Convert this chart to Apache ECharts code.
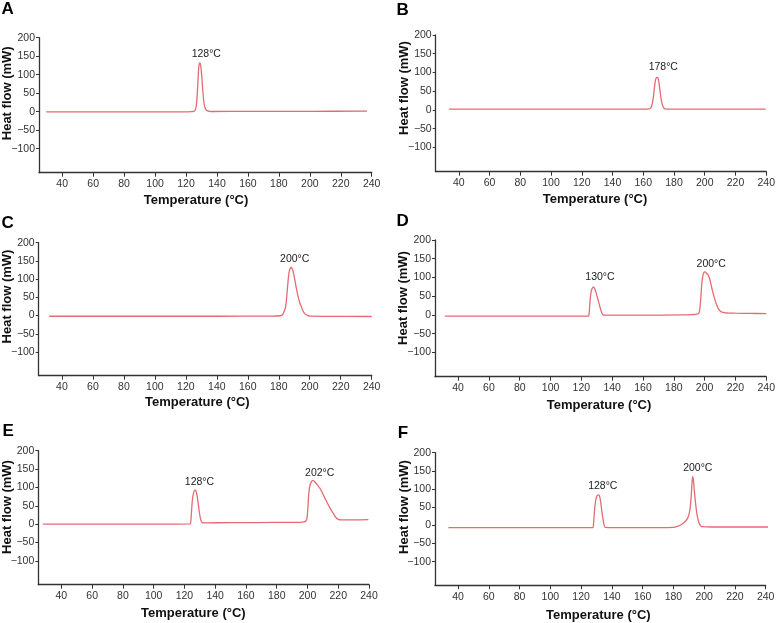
<!DOCTYPE html>
<html>
<head>
<meta charset="utf-8">
<script src="https://cdn.jsdelivr.net/npm/echarts@6/dist/echarts.min.js"></script>
<style>
html,body{margin:0;padding:0;background:#fff;}
#chart{width:778px;height:623px;}
</style>
</head>
<body>
<div id="chart"></div>
<script>
// ---------- DATA ----------
const xTickValues = [40, 60, 80, 100, 120, 140, 160, 180, 200, 220, 240];
const yTickValues = [-100, -50, 0, 50, 100, 150, 200];
const panelLetters = ['A', 'B', 'C', 'D', 'E', 'F'];
const xAxisTitle = 'Temperature (°C)';
const yAxisTitle = 'Heat flow (mW)';

const peakLabelsA = ['128°C'];
const peakLabelsB = ['178°C'];
const peakLabelsC = ['200°C'];
const peakLabelsD = ['130°C', '200°C'];
const peakLabelsE = ['128°C', '202°C'];
const peakLabelsF = ['128°C', '200°C'];

const tempA = [29.6, 60, 100, 120, 124, 125.5, 126.5, 127.3, 127.8, 128.3, 128.9, 129.5, 130.2, 130.8, 131.5, 132.3, 133.5, 135, 137, 160, 200, 237];
const flowA = [-0.5, -0.5, -0.5, -0.3, 0, 2, 12, 50, 90, 122, 132, 125, 95, 60, 28, 10, 3, 1, 0.5, 1, 1, 1.5];

const tempB = [33.6, 80, 130, 160, 163.5, 164.8, 165.8, 166.6, 167.3, 168, 168.8, 169.6, 170.3, 171, 171.8, 172.8, 174, 176, 200, 239.6];
const flowB = [2, 2, 2, 2, 2.5, 5, 15, 35, 60, 80, 86.5, 85, 70, 48, 25, 9, 3, 2, 2, 2];

const tempC = [31.8, 80, 140, 175, 181, 182.5, 183.5, 184.3, 185, 185.8, 186.6, 187.4, 188, 188.8, 189.6, 190.5, 191.5, 192.5, 193.5, 194.5, 195.5, 196.5, 197.5, 198.8, 200, 210, 240];
const flowC = [-1.8, -1.8, -1.8, -1.5, -0.5, 3, 12, 22, 45, 85, 118, 130, 132, 128, 115, 95, 72, 52, 36, 25, 14, 7, 3, 0, -1.5, -2, -2.5];

const tempD = [31.4, 80, 124.5, 125, 125.5, 126, 126.6, 127.3, 128, 128.7, 129.5, 130.5, 131.5, 132.5, 133.3, 134.2, 136, 160, 185, 192, 195, 196.3, 197, 197.6, 198.2, 198.9, 199.6, 200.3, 201, 202, 203, 204, 205, 206, 207, 208, 209, 210.5, 212.5, 215, 220, 230, 240];
const flowD = [-3.5, -3.5, -3.2, 3, 30, 52, 66, 73, 74, 70, 60, 45, 30, 15, 5, 0, -0.5, -0.5, 0, 1, 2, 5, 20, 50, 85, 105, 114, 115, 112, 108, 100, 84, 66, 50, 36, 25, 16, 9, 6, 5, 4.5, 4, 3.5];

const tempE = [27.9, 60, 100, 123.8, 124.2, 124.7, 125.3, 126, 126.8, 127.5, 128.2, 129, 129.8, 130.6, 131.5, 133, 150, 180, 195, 198.5, 199.5, 200.2, 200.8, 201.5, 202.5, 203.6, 205, 206.5, 208.2, 210, 212.5, 214.5, 216.8, 218.5, 220, 222, 230, 239.6];
const flowE = [0, 0, 0, 0.5, 10, 40, 70, 86, 92.6, 90, 78, 55, 30, 12, 4, 3.5, 4, 4.5, 5, 7, 12, 40, 80, 103, 115, 119, 114, 106, 97, 82, 61, 45, 29, 18, 13, 11.5, 11.5, 12];

const tempF = [33.7, 80, 127.6, 128, 128.5, 129.2, 130, 131, 131.8, 132.5, 133.3, 134.2, 135, 135.7, 140, 170, 180, 183, 185.5, 187.5, 189, 190, 190.8, 191.5, 192, 192.5, 193, 193.6, 194.3, 195, 195.8, 196.6, 197.5, 198.5, 205, 245];
const flowF = [-6.5, -6.5, -6.3, 0, 30, 60, 78, 84, 82, 70, 45, 18, 0, -5.5, -6, -6, -5.5, -2, 3, 10, 18, 28, 45, 75, 110, 134, 125, 95, 65, 40, 20, 8, 0, -3.5, -4.5, -4.5];

// ---------- LAYOUT / STYLE ----------
const temps = [tempA, tempB, tempC, tempD, tempE, tempF];
const flows = [flowA, flowB, flowC, flowD, flowE, flowF];
const peakLabels = [peakLabelsA, peakLabelsB, peakLabelsC, peakLabelsD, peakLabelsE, peakLabelsF];

const grids = [
  {left: 39, top: 37.7, width: 332.7, height: 135},
  {left: 435.7, top: 35, width: 333.3, height: 136.7},
  {left: 38.7, top: 242.7, width: 333, height: 133},
  {left: 435, top: 240, width: 334, height: 136.7},
  {left: 38.3, top: 450.7, width: 330.7, height: 134},
  {left: 435, top: 452.7, width: 330.7, height: 132.6}
];
const letterPos = [[1.5, 9.5], [396.5, 10.8], [1.5, 223.2], [396.5, 221.4], [2.5, 431.6], [397.8, 433.2]];
const yNamePos = [[7.5, 93.3], [404, 88], [7.5, 296.5], [403, 298], [7.5, 507], [404, 507]];
const xNamePos = [[196, 200.5], [595, 199.5], [197.3, 402.5], [599, 405], [193.3, 613.5], [598.3, 615]];
const peakLabelPos = [
  [[206.3, 54.2]],
  [[663.3, 67.5]],
  [[294.7, 259.2]],
  [[600, 277.5], [711.2, 264.2]],
  [[199.5, 481.8], [319.7, 473.2]],
  [[602.8, 486.5], [697.8, 468.3]]
];

const FONT = '"Liberation Sans", Arial, Helvetica, sans-serif';
const axisColor = '#333';
const lineColor = '#e56b73';

const option = {
  animation: false,
  backgroundColor: '#fff',
  grid: [], xAxis: [], yAxis: [], series: [], graphic: []
};

for (let i = 0; i < 6; i++) {
  const g = grids[i];
  option.grid.push({left: g.left, top: g.top, width: g.width, height: g.height, containLabel: false});
  option.xAxis.push({
    type: 'value', gridIndex: i, min: 25, max: 240,
    axisLine: {show: true, onZero: false, lineStyle: {color: axisColor, width: 1.3}},
    axisTick: {show: true, length: 4, customValues: xTickValues, lineStyle: {color: axisColor, width: 1}},
    axisLabel: {show: true, customValues: xTickValues, margin: 6, fontSize: 10.5, fontFamily: FONT, color: '#333'},
    splitLine: {show: false}
  });
  option.yAxis.push({
    type: 'value', gridIndex: i, min: -165, max: 200,
    axisLine: {show: true, onZero: false, lineStyle: {color: axisColor, width: 1.3}},
    axisTick: {show: true, length: 3, customValues: yTickValues, lineStyle: {color: axisColor, width: 1}},
    axisLabel: {show: true, customValues: yTickValues, margin: 4, fontSize: 10.5, fontFamily: FONT, color: '#333',
      formatter: v => String(v).replace('-', '\u2212')},
    splitLine: {show: false}
  });
  option.series.push({
    type: 'line', xAxisIndex: i, yAxisIndex: i,
    data: temps[i].map((t, k) => [t, flows[i][k]]),
    showSymbol: false, smooth: 0.35, clip: false,
    lineStyle: {color: lineColor, width: 1.3},
    emphasis: {disabled: true}
  });
  // panel letter
  option.graphic.push({
    type: 'text', x: letterPos[i][0], y: letterPos[i][1],
    style: {text: panelLetters[i], font: 'bold 17px ' + FONT, fill: '#000', align: 'left', verticalAlign: 'middle'}
  });
  // y axis title
  option.graphic.push({
    type: 'text', x: yNamePos[i][0], y: yNamePos[i][1], rotation: Math.PI / 2,
    style: {text: yAxisTitle, font: 'bold 13px ' + FONT, fill: '#111', align: 'center', verticalAlign: 'middle'}
  });
  // x axis title
  option.graphic.push({
    type: 'text', x: xNamePos[i][0], y: xNamePos[i][1],
    style: {text: xAxisTitle, font: 'bold 13px ' + FONT, fill: '#111', align: 'center', verticalAlign: 'middle'}
  });
  // peak labels
  peakLabels[i].forEach((txt, k) => {
    option.graphic.push({
      type: 'text', x: peakLabelPos[i][k][0], y: peakLabelPos[i][k][1],
      style: {text: txt, font: '10.5px ' + FONT, fill: '#222', align: 'center', verticalAlign: 'middle'}
    });
  });
}

const chart = echarts.init(document.getElementById('chart'), null, {renderer: 'canvas'});
chart.setOption(option);
</script>
</body>
</html>
